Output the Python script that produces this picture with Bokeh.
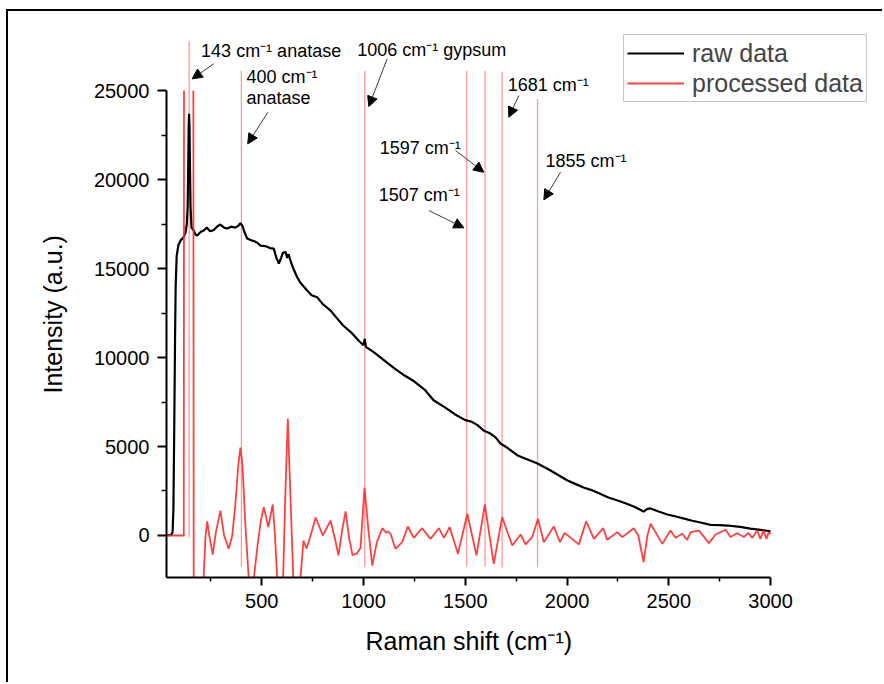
import math
from bokeh.plotting import figure
from bokeh.models import (Range1d, FixedTicker, Legend, LegendItem, Arrow,
                          NormalHead, ColumnDataSource, LabelSet, Title)
from bokeh.core.properties import value
from bokeh.embed import file_html
from bokeh.resources import INLINE

FONT = "Liberation Sans"
NAN = math.nan

# ---- raw spectrum ----
raw_x = [32, 55, 62, 66, 70, 74, 77, 82, 90, 101, 116, 125, 132, 136, 139, 141, 143, 145, 147,
         150, 155, 166, 175, 183, 200, 214, 230, 245, 263, 280, 297, 315, 330, 350, 370, 385,
         395, 405, 415, 428, 445, 461, 478, 494, 520, 540, 559, 572, 584, 595, 605, 617, 625,
         632, 641, 655, 674, 690, 705, 723, 745, 772, 800, 838, 870, 900, 940, 980, 1000,
         1006, 1012, 1050, 1100, 1150, 1200, 1250, 1300, 1344, 1400, 1450, 1500, 1530, 1560,
         1590, 1620, 1650, 1673, 1710, 1757, 1800, 1855, 1919, 2002, 2040, 2081, 2120, 2165,
         2200, 2248, 2290, 2327, 2360, 2376, 2395, 2410, 2450, 2493, 2530, 2575, 2615, 2656,
         2705, 2750, 2788, 2850, 2901, 2950, 3000]
raw_y = [0, 30, 200, 1500, 6000, 11000, 14000, 15700, 16300, 16570, 16760, 17000, 17500, 18500,
         21000, 23000, 23700, 23000, 21000, 18500, 17300, 17130, 16900, 16850, 17050, 17130,
         17300, 17100, 17150, 17350, 17470, 17300, 17250, 17350, 17300, 17400, 17540, 17400,
         17050, 16690, 16600, 16540, 16450, 16290, 16250, 16150, 16120, 15600, 15280, 15600,
         15900, 15920, 15600, 15800, 15450, 15000, 14510, 14200, 14000, 13760, 13500, 13390,
         13000, 12640, 12200, 11800, 11400, 10900, 10700, 11050, 10600, 10300, 9850, 9400,
         9000, 8650, 8200, 7600, 7200, 6800, 6480, 6400, 6200, 5900, 5750, 5500, 5170, 4900,
         4500, 4300, 4050, 3650, 3090, 2900, 2700, 2550, 2330, 2150, 1970, 1800, 1630, 1450,
         1340, 1500, 1520, 1350, 1180, 1080, 950, 830, 730, 600, 580, 560, 480, 390, 320, 240]

# ---- processed spectrum (off-scale spike shown at the axis top) ----
proc_x = [32, 117, 118, NAN, 164, 166, 205, 215, 224, 232, 242, 259, 275, 297, 315, 338, 355,
          370, 385, 395, 405, 420, 436, 448, 461, 480, 495, 510, 520, 532, 543, 554, 565, 576,
          590, 605, 615, 628, 640, 655, 672, 690, 705, 720, 740, 765, 800, 838, 860, 877, 895,
          912, 930, 946, 968, 985, 1005, 1025, 1043, 1065, 1092, 1112, 1120, 1133, 1157, 1190,
          1218, 1247, 1288, 1329, 1370, 1395, 1423, 1464, 1510, 1555, 1596, 1640, 1681, 1731,
          1772, 1796, 1829, 1857, 1886, 1935, 1965, 1988, 2058, 2094, 2132, 2178, 2197, 2247,
          2271, 2328, 2350, 2376, 2395, 2410, 2435, 2468, 2508, 2533, 2566, 2590, 2607, 2648,
          2697, 2730, 2779, 2803, 2836, 2869, 2890, 2910, 2934, 2950, 2965, 2980, 2991, 3000]
proc_y = [0, 0, 25000, NAN, 25000, -9000, -6000, -2200, 0, 800, 0, -1070, 200, 1400, 0, -750, 0,
          1700, 4000, 4940, 4000, 500, -2400, -3500, -2400, -500, 800, 1590, 1100, 470, 1100,
          1740, 0, -2400, -3500, -2400, 2000, 6570, 2500, -2400, -3500, -2400, -280, -730, 0,
          1010, 0, 840, -200, -1120, 300, 1350, -200, -1100, -1000, -700, 2680, 200, -1690, -400,
          410, 150, 230, 95, -750, -375, 505, -130, 410, -190, 410, -130, 470, -1030, 1220,
          -1120, 1740, -1590, 1030, -560, 56, -500, -90, 940, -375, 505, -375, 150, -500, 800,
          -190, 410, -240, 190, -90, 410, 0, -1500, 0, 660, 190, -470, 280, -130, 95, -250, 190,
          280, -430, 56, 320, -90, 130, -90, 150, -130, 280, -190, 280, -190, 190, 100]

# ---- peak markers and labels ----
peak_pos = [143, 400, 1006, 1507, 1597, 1681, 1855]
peak_top = [27800, 26100, 26100, 26100, 26100, 26060, 24530]
peak_bottom = [-110, -1790, -1760, -1760, -1760, -1800, -1760]

label_text = ["143 cm⁻¹ anatase", "400 cm⁻¹", "anatase", "1006 cm⁻¹ gypsum",
              "1681 cm⁻¹", "1597 cm⁻¹", "1507 cm⁻¹", "1855 cm⁻¹"]
label_x = [202, 425, 425, 969, 1709, 1080, 1075, 1894]
label_y = [26910, 25410, 24240, 26966, 25000, 21444, 18820, 20730]

arrow_x0 = [264, 530, 1116, 1763, 1452, 1321, 1968]
arrow_y0 = [26500, 23781, 26781, 24719, 21629, 18258, 20410]
arrow_x1 = [158, 431, 1026, 1714, 1591, 1493, 1886]
arrow_y1 = [25657, 22006, 24101, 23500, 20410, 17287, 18860]

x_ticks = [500, 1000, 1500, 2000, 2500, 3000]
x_minor = [250, 750, 1250, 1750, 2250, 2750]
y_ticks = [0, 5000, 10000, 15000, 20000, 25000]
y_minor = [2500, 7500, 12500, 17500, 22500]

X_MIN, X_MAX, X_AXIS_END = 32, 3540, 3000
Y_MIN, Y_MAX, Y_AXIS_END = -2360, 29440, 25000

p = figure(width=876, height=673, output_backend="svg", toolbar_location=None,
           x_range=Range1d(X_MIN, X_MAX), y_range=Range1d(Y_MIN, Y_MAX),
           min_border_left=158, min_border_right=4, min_border_top=0, min_border_bottom=107)
p.styles = {"margin-left": "6px", "margin-top": "9px",
            "border-left": "2px solid black", "border-top": "2px solid black"}
p.outline_line_color = None
p.grid.visible = False
p.background_fill_color = "white"
p.border_fill_color = "white"

for ax in (p.xaxis[0], p.yaxis[0]):
    ax.axis_line_width = 2
    ax.axis_line_color = "black"
    ax.major_tick_line_width = 2
    ax.minor_tick_line_width = 1.5
    ax.major_tick_in = 0
    ax.minor_tick_in = 0
    ax.major_label_text_font = FONT
    ax.major_label_text_font_size = "20px"
    ax.major_label_text_color = "black"

p.xaxis[0].ticker = FixedTicker(ticks=x_ticks, minor_ticks=x_minor)
p.yaxis[0].ticker = FixedTicker(ticks=y_ticks, minor_ticks=y_minor)
p.xaxis[0].bounds = (X_MIN, X_AXIS_END)
p.yaxis[0].bounds = (Y_MIN, Y_AXIS_END)
p.xaxis[0].major_tick_out = 8
p.xaxis[0].minor_tick_out = 4
p.yaxis[0].major_tick_out = 9
p.yaxis[0].minor_tick_out = 5
p.xaxis[0].major_label_standoff = 8
p.yaxis[0].major_label_standoff = 8

# axis titles, centred under / beside the drawn axes rather than the whole frame
p.add_layout(Title(text="Raman shift (cm⁻¹)", align="left", offset=199, standoff=31,
                   vertical_align="middle", text_font=FONT, text_font_size="25px",
                   text_font_style="normal", text_color="black"), "below")
p.add_layout(Title(text="Intensity (a.u.)", align="left", offset=184, standoff=46,
                   vertical_align="middle", text_font=FONT, text_font_size="25px",
                   text_font_style="normal", text_color="black"), "left")

# peak marker lines
p.segment(x0=peak_pos, y0=peak_bottom, x1=peak_pos, y1=peak_top,
          line_color="#ff9a9a", line_width=1.3)

r_raw = p.line(raw_x, raw_y, line_color="black", line_width=2.2)
r_proc = p.line(proc_x, proc_y, line_color="#ff2b2b", line_width=1.8, line_alpha=0.9)

label_src = ColumnDataSource(dict(x=label_x, y=label_y, text=label_text))
p.add_layout(LabelSet(source=label_src, x="x", y="y", text="text",
                      text_font=value(FONT), text_font_size="18px", text_color="black",
                      text_align="left", text_baseline="alphabetic"))

arrow_src = ColumnDataSource(dict(x0=arrow_x0, y0=arrow_y0, x1=arrow_x1, y1=arrow_y1))
p.add_layout(Arrow(source=arrow_src, x_start="x0", y_start="y0", x_end="x1", y_end="y1",
                   line_color="#3a3a3a", line_width=1,
                   end=NormalHead(size=10, fill_color="black", line_color="black", line_width=1)))

legend = Legend(items=[LegendItem(label="raw data", renderers=[r_raw]),
                       LegendItem(label="processed data", renderers=[r_proc])],
                location=(457, 475), margin=0, padding=3, spacing=0,
                label_height=30, glyph_height=30, glyph_width=57, label_standoff=8,
                label_text_font=FONT, label_text_font_size="25px",
                border_line_color="#8c8c8c", border_line_width=1,
                background_fill_color="white", background_fill_alpha=1)
p.add_layout(legend)

open("out.html", "w").write(file_html(p, INLINE))
